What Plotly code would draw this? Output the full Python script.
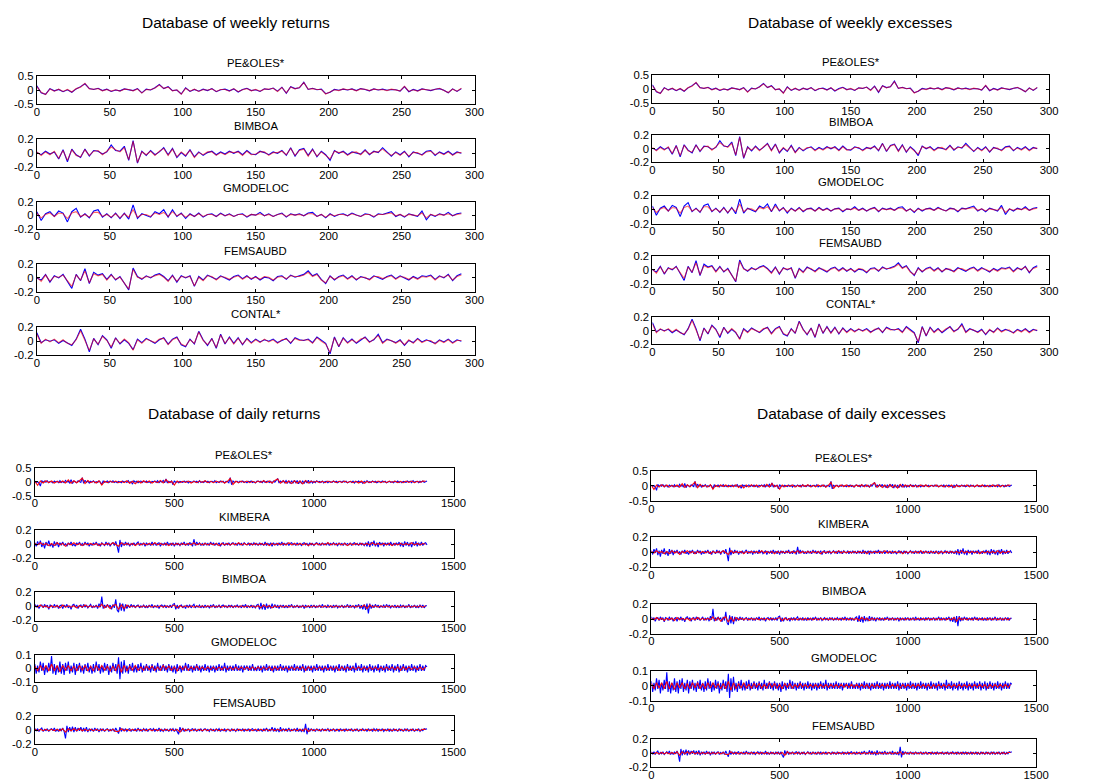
import plotly.graph_objects as go

W, H = 1109, 782
OFF = 8                      # html body margin
FW, FH = W - 2 * OFF, H      # figure size
# measured mapping between page pixels and the photographed picture
SX, BX = 0.986, 3.3
SY, BY = 0.980, 5.5

# ---------------- DATA ----------------
WEEKLY_NAMES = ["PE&OLES*", "BIMBOA", "GMODELOC", "FEMSAUBD", "CONTAL*"]
DAILY_NAMES = ["PE&OLES*", "KIMBERA", "BIMBOA", "GMODELOC", "FEMSAUBD"]
WEEK_STEP = 3       # one value every 3 weeks
DAY_STEP_BLUE = 5   # one value every 5 days
DAY_STEP_RED = 10   # one value every 10 days

PE_W_BLUE = [0.15,-0.10,-0.15,0.05,-0.03,0.02,-0.06,0.01,-0.08,0.04,
 0.12,0.22,0.05,0.02,0.06,-0.02,0.03,-0.05,0.00,-0.03,
 0.04,0.01,-0.02,0.05,-0.10,0.03,0.00,0.08,0.20,0.05,
 0.12,-0.02,0.00,-0.14,0.08,-0.05,0.02,-0.04,0.03,-0.02,
 0.05,-0.06,0.01,0.03,-0.03,0.04,-0.07,0.02,0.06,-0.02,
 0.01,-0.05,0.04,0.02,0.07,-0.04,0.10,-0.12,0.12,0.05,
 0.08,0.28,0.02,0.06,0.01,0.03,-0.13,-0.08,0.02,-0.01,
 0.03,0.00,0.04,-0.02,0.05,0.02,-0.03,0.04,0.00,0.03,
 -0.01,0.02,0.01,-0.04,0.12,-0.06,0.02,-0.03,0.04,0.01,
 -0.02,0.03,0.05,-0.01,-0.10,0.04,-0.05,0.05]
PE_W_RED = [0.12,-0.08,-0.16,0.04,-0.04,0.03,-0.05,0.02,-0.07,0.05,
 0.10,0.24,0.04,0.03,0.05,-0.03,0.02,-0.04,0.01,-0.04,
 0.03,0.02,-0.03,0.04,-0.11,0.02,0.01,0.07,0.18,0.06,
 0.10,-0.03,0.01,-0.15,0.06,-0.04,0.03,-0.05,0.02,-0.01,
 0.04,-0.05,0.02,0.02,-0.04,0.05,-0.06,0.01,0.05,-0.03,
 0.02,-0.04,0.03,0.03,0.06,-0.05,0.09,-0.10,0.11,0.04,
 0.09,0.26,0.03,0.05,0.02,0.02,-0.14,-0.07,0.01,-0.02,
 0.04,0.01,0.03,-0.03,0.04,0.03,-0.02,0.03,0.01,0.02,
 -0.02,0.03,0.00,-0.03,0.13,-0.05,0.01,-0.04,0.03,0.02,
 -0.01,0.02,0.06,-0.02,-0.09,0.03,-0.04,0.06]

BIM_W_BLUE = [0.01,-0.02,0.03,-0.01,0.02,-0.08,0.05,-0.12,0.06,-0.02,
 -0.06,0.06,-0.04,0.04,0.03,-0.01,0.02,0.12,0.04,0.03,
 0.10,-0.10,0.18,-0.14,0.03,-0.03,0.04,-0.02,0.02,0.08,
 -0.02,0.07,-0.06,0.01,-0.04,0.05,-0.05,0.02,-0.03,0.01,
 0.03,-0.02,0.02,-0.01,0.03,0.00,0.03,-0.02,0.04,-0.01,
 -0.02,0.03,0.01,-0.02,0.02,0.00,0.04,-0.03,0.08,-0.04,
 0.05,0.07,-0.03,0.06,-0.05,0.03,-0.02,-0.10,0.04,0.00,
 0.03,-0.02,0.02,0.01,-0.01,0.05,-0.02,0.03,0.01,0.08,
 0.02,-0.04,0.02,-0.02,0.03,-0.05,0.02,0.00,-0.02,0.03,
 0.04,-0.03,0.02,-0.01,0.03,-0.02,0.02,0.00]
BIM_W_RED = [0.02,-0.03,0.02,-0.02,0.03,-0.07,0.04,-0.10,0.05,-0.03,
 -0.05,0.05,-0.03,0.03,0.04,-0.02,0.03,0.09,0.05,0.02,
 0.08,-0.09,0.17,-0.13,0.02,-0.02,0.03,-0.03,0.03,0.07,
 -0.03,0.06,-0.05,0.02,-0.03,0.04,-0.06,0.01,-0.02,0.02,
 0.02,-0.03,0.01,-0.02,0.02,0.01,0.02,-0.03,0.03,-0.02,
 -0.01,0.02,0.02,-0.03,0.01,0.01,0.03,-0.02,0.07,-0.03,
 0.04,0.06,-0.04,0.05,-0.04,0.02,-0.03,-0.08,0.03,0.01,
 0.02,-0.03,0.01,0.02,-0.02,0.04,-0.01,0.02,0.02,0.06,
 0.01,-0.03,0.01,-0.03,0.02,-0.04,0.01,0.01,-0.03,0.02,
 0.03,-0.02,0.01,-0.02,0.02,-0.03,0.01,0.01]

GMO_W_BLUE = [0.05,-0.08,0.02,0.05,-0.02,0.06,0.03,-0.10,0.05,0.10,
 -0.03,0.02,-0.04,0.06,0.08,-0.03,0.02,-0.04,0.03,-0.05,
 0.03,-0.06,0.15,-0.05,0.02,0.00,-0.03,0.05,0.02,0.08,
 -0.03,0.08,-0.02,0.03,-0.05,0.02,-0.02,0.03,-0.03,0.01,
 0.02,-0.02,0.03,-0.01,0.02,-0.02,0.01,0.02,-0.03,0.01,
 0.00,0.04,-0.01,0.02,-0.02,0.01,0.03,-0.03,0.02,0.00,
 0.02,-0.01,0.03,0.04,-0.02,0.01,-0.04,0.02,-0.02,0.01,
 0.02,-0.01,0.03,0.00,-0.02,0.02,0.01,-0.03,0.02,0.01,
 0.03,0.05,-0.02,0.01,-0.03,0.02,0.00,-0.02,0.06,-0.07,
 0.01,-0.02,0.02,0.00,0.04,-0.01,0.02,0.03]
GMO_W_RED = [0.03,-0.04,0.01,0.03,-0.02,0.03,0.02,-0.05,0.03,0.05,
 -0.02,0.01,-0.03,0.04,0.04,-0.02,0.01,-0.03,0.02,-0.04,
 0.02,-0.03,0.08,-0.03,0.01,0.01,-0.02,0.03,0.01,0.04,
 -0.02,0.05,-0.01,0.02,-0.03,0.01,-0.02,0.02,-0.02,0.01,
 0.01,-0.02,0.02,-0.01,0.01,-0.02,0.01,0.01,-0.02,0.01,
 0.00,0.02,-0.01,0.01,-0.02,0.01,0.02,-0.02,0.01,0.00,
 0.01,-0.01,0.02,0.02,-0.02,0.01,-0.03,0.01,-0.01,0.01,
 0.01,-0.01,0.02,0.00,-0.02,0.01,0.01,-0.02,0.01,0.01,
 0.02,0.03,-0.01,0.01,-0.02,0.01,0.00,-0.01,0.03,-0.04,
 0.01,-0.01,0.01,0.00,0.02,-0.01,0.01,0.02]

FEM_W_BLUE = [0.00,-0.03,0.05,-0.06,0.03,0.00,0.05,-0.05,-0.15,0.05,
 -0.04,0.13,-0.08,0.08,0.04,0.06,-0.02,0.05,-0.03,0.02,
 -0.08,-0.17,0.14,0.02,-0.02,0.03,0.00,0.04,0.06,0.02,
 -0.04,0.04,-0.06,0.03,0.00,0.03,-0.12,0.02,-0.03,0.04,
 0.01,-0.02,0.03,0.00,-0.03,0.02,0.04,-0.01,0.03,-0.02,
 0.02,-0.03,0.01,0.00,-0.04,0.02,0.03,-0.02,0.04,0.01,
 0.03,0.05,0.10,0.03,0.06,-0.02,-0.08,0.03,-0.03,0.02,
 0.04,-0.01,0.03,-0.03,0.02,0.00,-0.02,0.03,0.01,-0.02,
 0.02,0.04,-0.01,0.03,0.00,-0.03,0.02,-0.01,0.03,0.02,
 0.04,-0.02,0.03,0.00,0.05,-0.04,0.03,0.06]
FEM_W_RED = [0.01,-0.05,0.04,-0.05,0.02,0.01,0.04,-0.04,-0.12,0.04,
 -0.03,0.10,-0.07,0.06,0.03,0.05,-0.03,0.04,-0.02,0.01,
 -0.07,-0.16,0.12,0.01,-0.01,0.02,0.01,0.03,0.05,0.01,
 -0.05,0.03,-0.05,0.02,0.01,0.02,-0.11,0.01,-0.04,0.03,
 0.02,-0.03,0.02,0.01,-0.02,0.01,0.03,-0.02,0.02,-0.01,
 0.01,-0.02,0.02,0.01,-0.03,0.01,0.02,-0.01,0.03,0.02,
 0.02,0.04,0.08,0.02,0.05,-0.03,-0.07,0.02,-0.02,0.01,
 0.03,-0.02,0.02,-0.02,0.01,0.01,-0.03,0.02,0.02,-0.01,
 0.01,0.03,-0.02,0.02,0.01,-0.02,0.01,-0.02,0.02,0.01,
 0.03,-0.03,0.02,0.01,0.04,-0.03,0.02,0.04]

CON_W_BLUE = [0.12,-0.02,0.02,0.00,0.02,-0.03,0.01,-0.02,-0.06,0.03,
 0.17,0.03,-0.15,0.04,-0.05,0.08,0.02,-0.10,0.05,-0.04,
 0.02,-0.03,-0.12,0.03,-0.02,0.04,0.00,-0.03,0.02,0.05,
 -0.04,0.03,0.06,-0.05,-0.08,0.03,-0.04,0.14,0.02,-0.06,
 0.04,-0.10,0.10,-0.04,0.06,-0.03,0.05,-0.05,0.04,-0.02,
 0.03,-0.01,0.02,0.00,0.03,-0.02,0.01,0.04,-0.03,0.05,
 0.02,0.01,0.03,-0.02,0.06,0.01,-0.03,-0.18,0.06,-0.08,
 0.05,-0.02,0.03,-0.03,0.02,0.06,-0.01,0.02,0.10,-0.02,
 0.03,0.00,-0.02,0.02,-0.06,0.01,-0.02,0.04,-0.01,0.02,
 0.00,-0.03,0.02,-0.01,0.03,-0.02,0.02,0.00]
CON_W_RED = [0.10,-0.03,0.03,-0.01,0.03,-0.02,0.02,-0.03,-0.05,0.02,
 0.15,0.02,-0.13,0.03,-0.04,0.07,0.01,-0.08,0.04,-0.03,
 0.03,-0.02,-0.13,0.02,-0.03,0.03,0.01,-0.02,0.03,0.04,
 -0.05,0.02,0.05,-0.04,-0.07,0.02,-0.03,0.13,0.01,-0.05,
 0.03,-0.09,0.09,-0.03,0.05,-0.04,0.04,-0.04,0.03,-0.03,
 0.02,-0.02,0.03,-0.01,0.02,-0.03,0.02,0.03,-0.02,0.04,
 0.01,0.02,0.02,-0.03,0.05,0.00,-0.04,-0.16,0.05,-0.07,
 0.04,-0.03,0.02,-0.02,0.03,0.05,-0.02,0.03,0.08,-0.03,
 0.02,0.01,-0.03,0.01,-0.05,0.02,-0.03,0.03,-0.02,0.01,
 0.01,-0.04,0.01,-0.02,0.02,-0.03,0.01,0.01]

PE_D_BLUE = [0.03,-0.02,0.01,-0.04,-0.15,0.05,-0.02,0.03,-0.01,0.04,-0.03,0.02,0.00,-0.04,0.03,-0.01,0.02,-0.03,0.04,-0.02,
 0.01,-0.03,0.05,-0.01,0.02,-0.04,0.08,-0.06,0.03,0.01,-0.03,0.04,0.02,-0.02,0.15,-0.05,0.06,-0.02,0.03,-0.04,
 0.02,-0.01,0.04,-0.03,0.01,-0.02,0.03,-0.01,-0.10,0.04,-0.02,0.01,0.03,-0.03,0.02,-0.01,0.04,-0.02,0.01,-0.03,
 0.02,0.00,-0.03,0.03,-0.01,0.02,-0.02,0.04,-0.03,0.01,-0.08,0.04,-0.01,0.02,-0.03,0.01,0.03,-0.02,0.02,-0.01,
 0.03,-0.02,0.01,-0.04,0.02,0.00,0.03,-0.02,0.04,-0.03,0.02,-0.01,0.05,-0.03,0.10,-0.04,0.02,-0.02,0.03,-0.10,
 0.04,-0.02,0.01,-0.03,0.02,0.00,-0.02,0.03,-0.01,0.02,-0.04,0.02,0.01,-0.02,0.03,-0.01,0.02,-0.03,0.04,-0.02,
 0.01,-0.02,0.03,-0.01,0.02,-0.03,0.01,0.02,-0.02,0.04,-0.03,0.01,-0.02,0.03,-0.01,0.02,-0.04,0.02,0.01,-0.03,
 0.15,-0.10,0.03,-0.02,0.01,0.02,-0.03,0.02,-0.01,0.03,-0.02,0.01,-0.03,0.02,0.00,0.03,-0.02,0.01,-0.04,0.02,
 0.03,-0.01,0.02,-0.03,0.04,-0.02,0.01,0.03,-0.02,0.02,-0.04,0.03,-0.01,0.05,0.12,-0.04,0.03,-0.02,0.04,-0.03,
 0.05,-0.04,0.03,-0.06,0.04,-0.05,0.06,-0.03,0.05,-0.07,0.04,-0.05,0.03,-0.06,0.05,-0.04,0.06,-0.05,0.03,-0.04,
 0.02,-0.03,0.04,-0.01,0.02,-0.02,0.03,-0.04,0.01,0.02,-0.03,0.02,0.00,-0.02,0.03,-0.01,0.02,-0.03,0.01,0.02,
 -0.02,0.03,-0.01,0.02,-0.03,0.01,0.02,-0.02,0.03,-0.04,0.02,-0.01,0.03,-0.02,0.01,-0.05,0.02,-0.03,0.04,-0.02,
 0.01,-0.02,0.03,-0.01,0.02,-0.03,0.01,0.02,-0.02,0.03,-0.01,0.02,-0.03,0.01,0.02,-0.02,0.01,-0.03,0.02,-0.01,
 0.03,-0.02,0.01,-0.03,0.02,0.00,-0.02,0.03,-0.01,0.02,-0.03,0.04,-0.02,0.01,0.02,-0.03,0.02,-0.01,0.03,-0.02,
 0.01,0.03]
PE_D_RED = [0.02,-0.12,0.03,-0.04,0.04,-0.03,0.03,-0.04,0.02,-0.03,0.03,-0.04,0.07,-0.05,0.04,-0.03,0.04,0.13,-0.06,0.05,
 -0.03,0.02,-0.04,0.04,-0.11,0.02,-0.03,0.03,-0.02,0.03,-0.03,0.02,-0.03,0.04,-0.05,0.02,-0.07,0.03,-0.04,0.04,
 -0.03,0.03,-0.04,0.02,-0.03,0.05,-0.04,0.08,-0.03,0.02,-0.11,0.03,-0.03,0.02,-0.02,0.03,-0.04,0.02,-0.03,0.03,
 -0.02,0.04,-0.03,0.02,-0.03,0.03,-0.02,0.03,-0.04,0.02,0.12,-0.09,0.02,-0.03,0.03,-0.02,0.03,-0.03,0.02,-0.03,
 0.03,-0.02,0.04,-0.03,0.03,-0.04,0.05,0.10,-0.05,0.04,-0.05,0.03,-0.06,0.04,-0.05,0.03,-0.07,0.05,-0.04,0.03,
 -0.02,0.03,-0.03,0.02,-0.03,0.03,-0.02,0.03,-0.03,0.02,-0.02,0.03,-0.03,0.02,-0.03,0.02,-0.04,0.03,-0.05,0.02,
 -0.03,0.02,-0.02,0.03,-0.03,0.02,-0.03,0.03,-0.02,0.03,-0.03,0.02,-0.03,0.03,-0.02,0.03,-0.03,0.02,-0.02,0.03,0.02]

KIM_D_BLUE = [0.02,-0.03,0.04,-0.01,0.05,-0.04,0.02,-0.06,0.03,-0.02,0.05,-0.03,0.01,-0.05,0.04,-0.02,0.03,-0.04,0.02,-0.01,
 0.03,-0.02,0.01,-0.03,0.02,-0.01,0.03,-0.02,0.00,-0.03,0.02,-0.01,0.03,-0.02,0.01,-0.02,0.03,-0.01,0.02,-0.03,
 0.01,-0.02,0.02,-0.01,0.03,-0.02,0.01,-0.03,0.02,0.00,-0.02,0.03,-0.01,0.02,-0.03,0.01,0.02,-0.02,0.04,-0.03,
 -0.12,0.06,-0.04,0.02,-0.02,0.03,-0.01,0.02,-0.03,0.01,-0.01,0.02,-0.02,0.01,0.03,-0.02,0.01,-0.01,0.02,-0.03,
 0.02,-0.01,0.01,-0.02,0.03,-0.01,0.02,-0.02,0.01,0.02,-0.03,0.01,-0.01,0.02,-0.02,0.03,-0.01,0.01,-0.02,0.02,
 -0.03,0.02,-0.01,0.01,-0.02,0.02,-0.01,0.03,-0.02,0.01,-0.02,0.02,0.01,-0.03,0.07,-0.02,0.03,-0.01,0.02,-0.02,
 0.01,-0.02,0.02,-0.01,0.01,-0.02,0.03,-0.01,0.02,-0.02,0.01,-0.01,0.02,-0.03,0.01,0.02,-0.02,0.01,-0.01,0.02,
 -0.02,0.01,0.02,-0.01,0.01,-0.02,0.02,-0.01,0.01,-0.02,0.02,0.00,-0.01,0.02,-0.02,0.01,-0.01,0.02,-0.01,0.01,
 -0.02,0.02,-0.01,0.01,-0.02,0.03,-0.02,0.01,-0.01,0.02,-0.03,0.02,-0.01,0.01,-0.02,0.02,-0.01,0.03,-0.02,0.01,
 -0.01,0.02,-0.02,0.01,0.02,-0.01,0.01,-0.02,0.02,-0.01,0.01,-0.02,0.01,0.02,-0.01,0.01,-0.02,0.02,-0.01,0.01,
 -0.02,0.01,0.02,-0.01,0.01,-0.02,0.02,-0.01,0.01,-0.01,0.02,-0.02,0.01,-0.01,0.02,-0.01,0.01,-0.02,0.02,-0.01,
 0.01,-0.02,0.02,-0.01,0.01,-0.01,0.02,-0.02,0.01,0.02,-0.01,0.01,-0.02,0.02,-0.01,0.01,-0.02,0.02,-0.03,0.04,
 -0.04,0.03,-0.02,0.05,-0.03,0.02,-0.04,0.03,-0.01,0.02,-0.03,0.02,-0.01,0.02,-0.02,0.03,-0.02,0.01,-0.02,0.02,
 -0.01,0.03,-0.03,0.02,-0.04,0.04,-0.02,0.03,-0.03,0.02,-0.04,0.03,-0.02,0.04,-0.03,0.02,-0.02,0.03,-0.02,0.01,
 0.02,-0.01]
KIM_D_RED = [0.01,-0.01,0.02,-0.01,0.01,-0.02,0.01,-0.02,0.02,-0.01,0.01,-0.03,0.01,-0.01,0.02,-0.01,0.01,-0.02,0.01,-0.01,
 0.01,-0.01,0.01,-0.02,0.01,-0.01,0.01,-0.01,0.02,-0.01,-0.03,0.02,-0.01,0.01,-0.01,0.01,-0.02,0.01,-0.01,0.01,
 -0.01,0.01,-0.01,0.02,-0.01,0.01,-0.01,0.01,-0.02,0.01,-0.01,0.01,-0.01,0.01,-0.01,0.01,-0.01,0.02,-0.01,0.01,
 -0.01,0.01,-0.01,0.01,-0.01,0.01,-0.02,0.01,-0.01,0.01,-0.01,0.01,-0.01,0.02,-0.01,0.01,-0.01,0.01,-0.01,0.01,
 -0.01,0.01,-0.01,0.01,-0.02,0.01,-0.01,0.01,-0.01,0.01,-0.01,0.02,-0.01,0.01,-0.01,0.01,-0.01,0.01,-0.02,0.01,
 -0.01,0.01,-0.01,0.01,-0.01,0.02,-0.01,0.01,-0.01,0.01,-0.01,0.01,-0.02,0.01,-0.01,0.01,-0.01,0.01,-0.01,0.01,
 -0.01,0.02,-0.01,0.01,-0.01,0.01,-0.01,0.01,-0.02,0.01,-0.01,0.01,-0.01,0.01,-0.01,0.02,-0.01,0.01,-0.01,0.01,0.00]

BIM_D_BLUE = [0.03,-0.01,0.02,-0.03,0.01,0.02,-0.02,0.03,-0.01,0.02,-0.04,0.02,0.01,-0.02,0.03,-0.01,0.02,-0.03,0.01,0.02,
 -0.03,0.02,-0.01,0.03,-0.02,0.01,-0.04,0.02,0.03,-0.01,0.02,-0.03,0.01,0.02,-0.02,0.03,-0.01,0.02,-0.02,0.01,
 0.03,-0.02,0.01,-0.01,0.02,-0.03,0.04,-0.01,0.14,-0.03,0.02,-0.02,0.03,-0.01,0.02,-0.04,0.03,-0.02,0.10,-0.05,
 -0.08,0.05,-0.06,0.04,-0.07,0.03,-0.03,0.02,-0.02,0.03,-0.01,0.02,-0.02,0.01,0.02,-0.02,0.01,-0.01,0.02,-0.02,
 0.01,-0.02,0.02,-0.01,0.03,-0.02,0.01,-0.01,0.02,-0.03,0.01,0.02,-0.01,0.02,-0.02,0.01,-0.01,0.02,-0.02,0.03,
 0.04,-0.04,0.02,-0.03,0.01,0.02,-0.02,0.01,-0.03,0.02,-0.01,0.02,-0.02,0.01,0.03,-0.02,0.01,-0.01,0.02,-0.02,
 0.01,-0.02,0.02,-0.01,0.01,-0.02,0.02,-0.01,0.03,-0.02,0.01,-0.01,0.02,-0.02,0.01,0.02,-0.01,0.01,-0.02,0.02,
 -0.01,0.02,-0.02,0.01,-0.01,0.02,-0.01,0.01,-0.02,0.02,-0.01,0.03,-0.02,0.01,-0.01,0.02,-0.02,0.01,-0.02,0.02,
 0.03,-0.04,0.05,-0.04,0.03,-0.05,0.04,-0.03,0.02,-0.03,0.04,-0.02,0.03,-0.02,0.02,-0.03,0.02,-0.01,0.02,-0.02,
 0.01,-0.02,0.02,-0.01,0.03,-0.02,0.01,-0.01,0.02,-0.02,0.01,-0.01,0.02,-0.03,0.02,-0.01,0.01,-0.02,0.02,-0.01,
 0.02,-0.02,0.01,-0.01,0.02,-0.02,0.03,-0.01,0.01,-0.02,0.02,-0.01,0.01,-0.02,0.02,-0.01,0.02,-0.02,0.01,-0.01,
 0.02,-0.02,0.01,-0.01,0.03,-0.02,0.02,-0.01,0.01,-0.02,0.02,-0.01,0.03,-0.03,0.02,-0.04,0.03,-0.05,0.04,-0.10,
 0.04,-0.03,0.02,-0.02,0.03,-0.01,0.02,-0.02,0.01,-0.01,0.02,-0.02,0.03,-0.01,0.02,-0.02,0.01,-0.01,0.02,-0.02,
 0.01,-0.02,0.02,-0.01,0.02,-0.02,0.01,-0.01,0.03,-0.02,0.01,-0.01,0.02,-0.02,0.01,-0.02,0.02,-0.01,0.02,-0.02,
 0.01,0.01]
BIM_D_RED = [0.01,-0.01,0.02,-0.01,0.01,-0.02,0.01,-0.01,0.01,-0.02,0.02,-0.01,0.01,-0.01,0.01,-0.02,0.01,-0.01,0.02,-0.01,
 0.01,-0.01,0.01,-0.01,0.03,-0.02,0.02,-0.03,0.01,0.03,-0.04,0.02,-0.03,0.02,-0.01,0.01,-0.01,0.01,-0.01,0.01,
 -0.01,0.01,-0.01,0.01,-0.01,0.01,-0.01,0.01,-0.01,0.01,0.02,-0.02,0.01,-0.01,0.01,-0.01,0.01,-0.01,0.01,-0.01,
 0.01,-0.01,0.01,-0.01,0.01,-0.01,0.01,-0.01,0.01,-0.01,0.01,-0.01,0.01,-0.01,0.01,-0.01,0.01,-0.01,0.01,-0.01,
 0.01,-0.02,0.02,-0.01,0.01,-0.02,0.01,-0.01,0.01,-0.01,0.01,-0.01,0.01,-0.01,0.01,-0.01,0.01,-0.01,0.01,-0.01,
 0.01,-0.01,0.01,-0.01,0.01,-0.01,0.01,-0.01,0.01,-0.01,0.01,-0.01,0.01,-0.01,0.01,-0.01,0.01,-0.01,0.02,-0.03,
 0.02,-0.01,0.01,-0.01,0.01,-0.01,0.01,-0.01,0.01,-0.01,0.01,-0.01,0.01,-0.01,0.01,-0.01,0.01,-0.01,0.01,-0.01,0.01]

GMO_D_BLUE = [0.03,-0.04,0.02,-0.03,0.05,-0.02,0.04,-0.05,0.02,-0.03,0.04,-0.02,0.09,-0.04,0.03,-0.05,0.02,-0.03,0.05,-0.04,
 0.03,-0.05,0.04,-0.02,0.05,-0.04,0.02,-0.03,0.04,-0.05,0.03,-0.02,0.04,-0.03,0.02,-0.04,0.03,-0.02,0.04,-0.03,
 0.02,-0.04,0.03,-0.03,0.05,-0.02,0.03,-0.04,0.02,-0.03,0.04,-0.02,0.03,-0.05,0.02,-0.03,0.04,-0.02,0.03,-0.04,
 0.08,-0.08,0.05,-0.04,0.06,-0.03,0.02,-0.04,0.03,-0.02,0.04,-0.03,0.02,-0.03,0.03,-0.02,0.04,-0.03,0.02,-0.02,
 0.03,-0.02,0.02,-0.03,0.03,-0.02,0.02,-0.03,0.04,-0.02,0.02,-0.02,0.03,-0.02,0.02,-0.03,0.03,-0.02,0.02,-0.03,
 0.02,-0.04,0.03,-0.02,0.02,-0.03,0.02,-0.02,0.04,-0.02,0.03,-0.02,0.02,-0.03,0.02,-0.02,0.03,-0.02,0.02,-0.03,
 0.02,-0.02,0.03,-0.02,0.02,-0.03,0.02,-0.02,0.02,-0.03,0.02,-0.02,0.03,-0.02,0.02,-0.02,0.04,-0.03,0.02,-0.02,
 0.02,-0.02,0.02,-0.02,0.03,-0.02,0.02,-0.02,0.02,-0.03,0.02,-0.01,0.02,-0.02,0.02,-0.02,0.03,-0.02,0.01,-0.02,
 0.02,-0.02,0.02,-0.03,0.02,-0.02,0.03,-0.02,0.02,-0.02,0.02,-0.03,0.02,-0.02,0.02,-0.02,0.03,-0.02,0.02,-0.02,
 0.02,-0.03,0.02,-0.02,0.02,-0.02,0.03,-0.02,0.02,-0.02,0.02,-0.02,0.03,-0.03,0.02,-0.02,0.02,-0.02,0.02,-0.03,
 0.02,-0.02,0.03,-0.02,0.02,-0.02,0.02,-0.03,0.02,-0.02,0.03,-0.02,0.02,-0.02,0.02,-0.03,0.02,-0.02,0.03,-0.02,
 0.02,-0.02,0.02,-0.03,0.03,-0.02,0.02,-0.02,0.02,-0.03,0.04,-0.02,0.02,-0.02,0.03,-0.03,0.02,-0.02,0.02,-0.03,
 0.03,-0.02,0.02,-0.03,0.02,-0.02,0.03,-0.03,0.02,-0.02,0.02,-0.03,0.03,-0.02,0.02,-0.02,0.03,-0.03,0.02,-0.02,
 0.03,-0.03,0.02,-0.02,0.03,-0.02,0.02,-0.03,0.02,-0.02,0.03,-0.02,0.02,-0.03,0.02,-0.02,0.03,-0.02,0.02,-0.02,
 0.02,0.01]
GMO_D_RED = [0.015,-0.02,0.02,-0.015,0.02,-0.02,0.03,-0.02,0.02,-0.025,0.02,-0.015,0.02,-0.02,0.015,-0.02,0.02,-0.015,0.02,-0.02,
 0.015,-0.02,0.02,-0.015,0.02,-0.015,0.015,-0.02,0.015,-0.02,0.03,-0.03,0.02,-0.02,0.015,-0.015,0.02,-0.015,0.01,-0.015,
 0.015,-0.01,0.015,-0.015,0.01,-0.015,0.02,-0.01,0.015,-0.015,0.01,-0.02,0.015,-0.01,0.015,-0.015,0.01,-0.01,0.015,-0.01,
 0.01,-0.01,0.01,-0.01,0.01,-0.01,0.01,-0.01,0.01,-0.01,0.01,-0.01,0.01,-0.01,0.01,-0.01,0.01,-0.01,0.01,-0.01,
 0.01,-0.01,0.01,-0.01,0.01,-0.015,0.01,-0.01,0.01,-0.01,0.01,-0.01,0.01,-0.01,0.01,-0.01,0.01,-0.015,0.01,-0.01,
 0.01,-0.01,0.01,-0.01,0.01,-0.01,0.01,-0.01,0.01,-0.015,0.01,-0.01,0.01,-0.01,0.01,-0.01,0.01,-0.01,0.01,-0.01,
 0.01,-0.01,0.01,-0.01,0.01,-0.01,0.01,-0.01,0.01,-0.01,0.01,-0.015,0.01,-0.01,0.01,-0.01,0.01,-0.01,0.01,-0.01,0.01]

FEM_D_BLUE = [0.02,-0.01,0.02,-0.02,0.01,0.03,-0.02,0.01,-0.01,0.02,-0.02,0.01,0.02,-0.01,0.03,-0.02,0.01,-0.02,0.02,-0.01,
 0.03,-0.02,-0.12,0.06,-0.03,0.04,-0.02,0.05,-0.03,0.04,-0.02,0.03,-0.01,0.04,-0.02,0.03,-0.02,0.04,-0.03,0.02,
 -0.01,0.02,-0.02,0.03,-0.01,0.02,-0.03,0.02,-0.01,0.02,-0.02,0.01,0.02,-0.02,0.01,-0.01,0.02,-0.02,0.03,-0.01,
 -0.05,0.04,-0.02,0.02,-0.01,0.02,-0.02,0.01,0.02,-0.02,0.01,-0.01,0.02,-0.02,0.03,-0.01,0.01,-0.02,0.02,-0.01,
 0.02,-0.02,0.01,0.02,-0.01,0.02,-0.02,0.01,-0.01,0.03,-0.02,0.01,-0.02,0.02,-0.01,0.01,-0.02,0.02,-0.01,0.02,
 -0.02,0.02,-0.03,-0.06,0.04,-0.02,0.03,-0.02,0.01,-0.01,0.02,-0.02,0.01,0.02,-0.01,0.02,-0.02,0.01,-0.01,0.02,
 -0.02,0.01,0.02,-0.01,0.01,-0.02,0.02,-0.01,0.01,-0.02,0.02,-0.01,0.02,-0.02,0.01,-0.01,0.02,-0.02,0.01,0.01,
 -0.02,0.02,-0.01,0.01,-0.02,0.02,-0.01,0.01,-0.01,0.02,-0.02,0.01,-0.01,0.02,-0.02,0.01,0.02,-0.01,0.01,-0.02,
 0.02,-0.01,0.01,-0.02,0.02,-0.01,0.03,-0.02,0.01,-0.01,0.04,-0.02,0.03,-0.02,0.02,-0.03,0.04,-0.02,0.02,-0.01,
 0.02,-0.02,0.03,-0.02,0.01,-0.01,0.02,-0.02,0.03,-0.02,0.01,-0.02,0.02,-0.03,0.09,-0.06,0.03,-0.02,0.02,-0.01,
 0.01,-0.02,0.02,-0.01,0.01,-0.02,0.02,-0.01,0.01,-0.01,0.02,-0.02,0.01,-0.01,0.02,-0.02,0.01,0.01,-0.02,0.02,
 -0.01,0.01,-0.02,0.02,-0.01,0.01,-0.01,0.02,-0.02,0.01,-0.01,0.02,-0.02,0.01,-0.01,0.02,-0.01,0.01,-0.02,0.02,
 -0.01,0.01,-0.02,0.02,-0.01,0.02,-0.02,0.01,-0.01,0.02,-0.02,0.01,-0.01,0.02,-0.02,0.01,-0.02,0.02,-0.01,0.01,
 -0.02,0.02,-0.01,0.01,-0.02,0.02,-0.01,0.02,-0.02,0.01,-0.01,0.02,-0.02,0.01,-0.01,0.02,-0.02,0.01,-0.01,0.02,
 0.01,0.02]
FEM_D_RED = [0.01,-0.01,0.01,-0.01,0.01,-0.01,0.01,-0.01,0.01,-0.01,0.02,-0.03,0.02,-0.01,0.02,-0.01,0.02,-0.01,0.01,-0.01,
 0.01,-0.01,0.01,-0.01,0.01,-0.01,0.01,-0.01,0.01,-0.02,-0.02,0.02,-0.01,0.01,-0.01,0.01,-0.01,0.01,-0.01,0.01,
 -0.01,0.01,-0.01,0.01,-0.01,0.01,-0.01,0.01,-0.01,0.01,-0.01,0.01,-0.03,0.02,-0.01,0.01,-0.01,0.01,-0.01,0.01,
 -0.01,0.01,-0.01,0.01,-0.01,0.01,-0.01,0.01,-0.01,0.01,-0.01,0.01,-0.01,0.01,-0.01,0.01,-0.01,0.01,-0.01,0.01,
 -0.01,0.01,-0.01,0.01,-0.01,0.01,-0.01,0.01,-0.01,0.01,-0.01,0.01,-0.01,0.01,-0.01,0.01,-0.01,0.02,-0.02,0.01,
 -0.01,0.01,-0.01,0.01,-0.01,0.01,-0.01,0.01,-0.01,0.01,-0.01,0.01,-0.01,0.01,-0.01,0.01,-0.01,0.01,-0.01,0.01,
 -0.01,0.01,-0.01,0.01,-0.01,0.01,-0.01,0.01,-0.01,0.01,-0.01,0.01,-0.01,0.01,-0.01,0.01,-0.01,0.01,-0.01,0.01,0.01]

WEEKLY_BLUE = [PE_W_BLUE, BIM_W_BLUE, GMO_W_BLUE, FEM_W_BLUE, CON_W_BLUE]
WEEKLY_RED = [PE_W_RED, BIM_W_RED, GMO_W_RED, FEM_W_RED, CON_W_RED]
DAILY_BLUE = [PE_D_BLUE, KIM_D_BLUE, BIM_D_BLUE, GMO_D_BLUE, FEM_D_BLUE]
DAILY_RED = [PE_D_RED, KIM_D_RED, BIM_D_RED, GMO_D_RED, FEM_D_RED]

WEEKLY_YLIM = [0.5, 0.2, 0.2, 0.2, 0.2]
DAILY_YLIM = [0.5, 0.2, 0.2, 0.1, 0.2]
WEEKLY_XTICKS = [0, 50, 100, 150, 200, 250, 300]
DAILY_XTICKS = [0, 500, 1000, 1500]

PANEL_TITLES = ["Database of weekly returns", "Database of weekly excesses",
                "Database of daily returns", "Database of daily excesses"]

# ---------------- LAYOUT (target pixels in the picture) ----------------
panels = [
    dict(title=PANEL_TITLES[0], tx=236, ty=22, left=37, right=475,
         boxes=[(75, 103), (138, 166), (200, 227), (262, 290), (325, 353)],
         names=WEEKLY_NAMES, blue=WEEKLY_BLUE, red=WEEKLY_RED,
         sb=WEEK_STEP, sr=WEEK_STEP,
         ylim=WEEKLY_YLIM, xticks=WEEKLY_XTICKS, red_op=0.6),
    dict(title=PANEL_TITLES[1], tx=851, ty=22, left=653, right=1050,
         boxes=[(74, 102), (134, 161), (194, 222), (254, 282), (315, 342)],
         names=WEEKLY_NAMES, blue=WEEKLY_BLUE, red=WEEKLY_RED,
         sb=WEEK_STEP, sr=WEEK_STEP,
         ylim=WEEKLY_YLIM, xticks=WEEKLY_XTICKS, red_op=0.6),
    dict(title=PANEL_TITLES[2], tx=235, ty=411, left=35, right=454,
         boxes=[(465, 493), (527, 555), (589, 617), (651, 678), (712, 740)],
         names=DAILY_NAMES, blue=DAILY_BLUE, red=DAILY_RED,
         sb=DAY_STEP_BLUE, sr=DAY_STEP_RED,
         ylim=DAILY_YLIM, xticks=DAILY_XTICKS, red_op=0.95),
    dict(title=PANEL_TITLES[3], tx=852, ty=411, left=652, right=1037,
         boxes=[(468, 498), (534, 564), (601, 630), (667, 697), (735, 763)],
         names=DAILY_NAMES, blue=DAILY_BLUE, red=DAILY_RED,
         sb=DAY_STEP_BLUE, sr=DAY_STEP_RED,
         ylim=DAILY_YLIM, xticks=DAILY_XTICKS, red_op=0.95),
]


def px_x(x):
    page = (x - BX) / SX
    return (page - OFF) / FW


def px_y(y):
    page = (y - BY) / SY
    return 1 - (page - OFF) / FH


fig = go.Figure()
layout = {}
annotations = []
FONT = "Arial, Liberation Sans, sans-serif"
k = 0
for p in panels:
    annotations.append(dict(text=p["title"], x=px_x(p["tx"]), y=px_y(p["ty"]),
                            xref="paper", yref="paper", showarrow=False,
                            xanchor="center", yanchor="middle",
                            font=dict(size=15.5, color="black", family=FONT)))
    for i in range(5):
        k += 1
        xa, ya = f"x{k}", f"y{k}"
        blue = p["blue"][i]
        red = p["red"][i]
        xb = [j * p["sb"] for j in range(len(blue))]
        xr = [j * p["sr"] for j in range(len(red))]
        fig.add_trace(go.Scatter(x=xb, y=blue, mode="lines", xaxis=xa, yaxis=ya,
                                 line=dict(color="#0000ff", width=1.1),
                                 showlegend=False, hoverinfo="skip"))
        fig.add_trace(go.Scatter(x=xr, y=red, mode="lines", xaxis=xa, yaxis=ya,
                                 line=dict(color="#ff0000", width=1.1), opacity=p["red_op"],
                                 showlegend=False, hoverinfo="skip"))
        top, bot = p["boxes"][i]
        yl = p["ylim"][i]
        axis_common = dict(ticks="inside", ticklen=3, tickcolor="black", mirror="allticks",
                           showline=True, linecolor="black", linewidth=1,
                           showgrid=False, zeroline=False,
                           tickfont=dict(size=11.3, color="black", family=FONT))
        layout[f"xaxis{k}"] = dict(domain=[px_x(p["left"]), px_x(p["right"])], anchor=ya,
                                   range=[0, p["xticks"][-1]], tickvals=p["xticks"],
                                   ticktext=[str(t) for t in p["xticks"]],
                                   ticklabelstandoff=-3, **axis_common)
        layout[f"yaxis{k}"] = dict(domain=[px_y(bot), px_y(top)], anchor=xa,
                                   range=[-yl, yl], tickvals=[-yl, 0, yl],
                                   ticktext=["%g" % (-yl), "0", "%g" % yl], **axis_common)
        annotations.append(dict(text=p["names"][i], x=px_x((p["left"] + p["right"]) / 2),
                                y=px_y(top - 13), xref="paper", yref="paper",
                                showarrow=False, xanchor="center", yanchor="middle",
                                font=dict(size=11.3, color="black", family=FONT)))

fig.update_layout(width=FW, height=FH, autosize=False,
                  margin=dict(l=0, r=0, t=0, b=0, pad=0),
                  paper_bgcolor="white", plot_bgcolor="white",
                  annotations=annotations, **layout)
fig.write_html("out.html")
